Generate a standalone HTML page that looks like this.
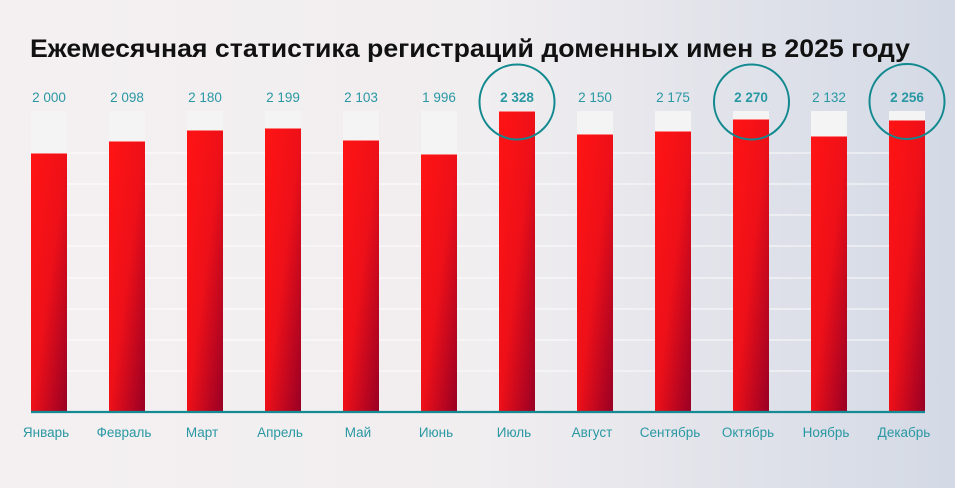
<!DOCTYPE html>
<html><head><meta charset="utf-8"><style>
html,body{margin:0;padding:0}
body{width:955px;height:488px;overflow:hidden;background:linear-gradient(90deg,#f4f0f1 0%,#f1eef0 50%,#d3d9e5 100%)}
svg{display:block}
text{font-family:"Liberation Sans","DejaVu Sans",sans-serif}
</style></head><body>
<svg width="955" height="488" viewBox="0 0 955 488">
<defs>
<linearGradient id="r" x1="0" y1="0" x2="1" y2="1" gradientUnits="objectBoundingBox">
<stop offset="0" stop-color="#ff1414"/><stop offset="0.5" stop-color="#ee1018"/><stop offset="1" stop-color="#980025"/>
</linearGradient>
</defs>
<text x="30" y="57" font-size="25" font-weight="bold" fill="#111" textLength="880" lengthAdjust="spacingAndGlyphs">Ежемесячная статистика регистраций доменных имен в 2025 году</text>
<g stroke="#ffffff" stroke-width="1.2" opacity="0.7">
<line x1="31" x2="925" y1="153" y2="153"/><line x1="31" x2="925" y1="184" y2="184"/>
<line x1="31" x2="925" y1="215" y2="215"/><line x1="31" x2="925" y1="246" y2="246"/>
<line x1="31" x2="925" y1="278" y2="278"/><line x1="31" x2="925" y1="309" y2="309"/>
<line x1="31" x2="925" y1="340" y2="340"/><line x1="31" x2="925" y1="371" y2="371"/>
</g>
<g id="bars"></g>
<line x1="31" x2="925" y1="412" y2="412" stroke="#168a93" stroke-width="2.2"/>
<g fill="none" stroke="#12898f" stroke-width="2">
<circle cx="517" cy="102" r="37.5"/><circle cx="751.5" cy="102" r="37.5"/><circle cx="907" cy="101.5" r="37.5"/>
</g>
<g id="labels" font-size="13.5" fill="#2a98a3" text-anchor="middle"></g>
</svg>
<script>
var tops=[153,141,130,128,140,154,111,134,131,119,136,120];
var vals=["2 000","2 098","2 180","2 199","2 103","1 996","2 328","2 150","2 175","2 270","2 132","2 256"];
var bold=[0,0,0,0,0,0,1,0,0,1,0,1];
var mon=["Январь","Февраль","Март","Апрель","Май","Июнь","Июль","Август","Сентябрь","Октябрь","Ноябрь","Декабрь"];
var ns="http://www.w3.org/2000/svg",b=document.getElementById("bars"),l=document.getElementById("labels");
function el(t,a,p){var e=document.createElementNS(ns,t);for(var k in a)e.setAttribute(k,a[k]);p.appendChild(e);return e;}
for(var i=0;i<12;i++){var cx=49+i*78,x=cx-18;
el("rect",{x:x,y:111,width:36,height:301,fill:"#f4f4f5"},b);
el("rect",{x:x,y:tops[i],width:36,height:412-tops[i],fill:"url(#r)"},b);
el("rect",{x:x,y:tops[i],width:36,height:1,fill:"#ff8080"},b);
var t=el("text",{x:cx,y:102,"font-weight":bold[i]?"bold":"normal"},l);t.textContent=vals[i];
var m=el("text",{x:cx-3,y:437},l);m.textContent=mon[i];}
</script>
</body></html>
